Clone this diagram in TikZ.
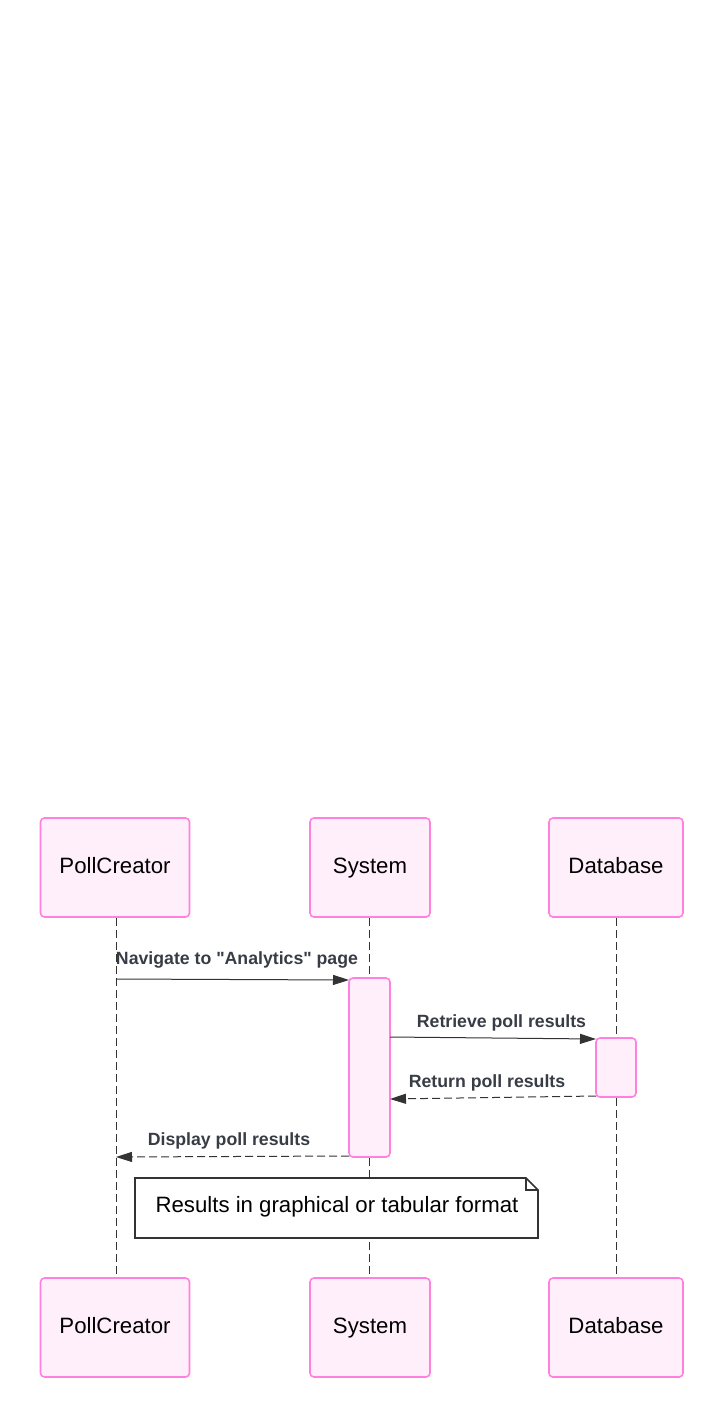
\documentclass[tikz,border=0pt]{standalone}
\usepackage{fontspec}
\setmainfont{Liberation Sans}
\usetikzlibrary{arrows.meta,shapes.misc}
\definecolor{actfill}{HTML}{FFEFFA}
\definecolor{actdraw}{HTML}{FF80DE}
\definecolor{linec}{HTML}{333333}
\definecolor{labc}{HTML}{383C45}
\tikzset{
  actor/.style={draw=actdraw, fill=actfill, line width=1.6pt, rounded corners=4pt, inner sep=0pt},
  atext/.style={font=\fontsize{22.2}{26}\selectfont, text=black, inner sep=0pt, anchor=base},
  actbar/.style={draw=actdraw, fill=actfill, line width=1.6pt, rounded corners=4pt},
  life/.style={draw=linec, line width=0.8pt, dash pattern=on 8pt off 4pt},
  msg/.style={draw=linec, line width=1pt, -{Triangle[length=16pt,width=10pt]}},
  rmsg/.style={msg, dash pattern=on 8pt off 4pt},
  mlab/.style={font=\fontsize{17.7}{20}\bfseries\selectfont, text=labc, inner sep=0pt, anchor=base},
}
\begin{document}
\begin{tikzpicture}[x=1pt,y=-1pt]
\useasboundingbox (0,0) rectangle (723,1418);
% actor boxes
\node[actor, minimum width=149pt, minimum height=99pt] (pc1) at (115,867.5) {};
\node[actor, minimum width=120pt, minimum height=99pt] (sy1) at (370,867.5) {};
\node[actor, minimum width=134pt, minimum height=99pt] (db1) at (616,867.5) {};
\node[actor, minimum width=149pt, minimum height=99pt] (pc2) at (115,1327.5) {};
\node[actor, minimum width=120pt, minimum height=99pt] (sy2) at (370,1327.5) {};
\node[actor, minimum width=134pt, minimum height=99pt] (db2) at (616,1327.5) {};
\node[atext] (tpc1) at (115,873.5) {PollCreator};
\node[atext] (tsy1) at (370,873.5) {System};
\node[atext] (tdb1) at (616,873.5) {Database};
\node[atext] (tpc2) at (115,1333.5) {PollCreator};
\node[atext] (tsy2) at (370,1333.5) {System};
\node[atext] (tdb2) at (616,1333.5) {Database};
% lifelines
\coordinate (lpt) at (116,918); \coordinate (lpb) at (116,1277);
\coordinate (lst) at (369.5,918); \coordinate (lsb) at (369.5,1277);
\coordinate (ldt) at (616.3,918); \coordinate (ldb) at (616.3,1277);
\draw[life] (lpt) -- (lpb);
\draw[life] (lst) -- (lsb);
\draw[life] (ldt) -- (ldb);
% activations
\draw[actbar] (349,978) rectangle (390,1157);
\draw[actbar] (596,1038) rectangle (636,1097);
\coordinate (s1) at (116,979); \coordinate (e1) at (349,980);
\coordinate (s2) at (390,1037); \coordinate (e2) at (596,1039);
\coordinate (s3) at (596,1096); \coordinate (e3) at (390,1099);
\coordinate (s4) at (349,1156); \coordinate (e4) at (116,1157);
\draw[msg] (s1) -- (e1);
\draw[msg] (s2) -- (e2);
\draw[rmsg] (s3) -- (e3);
\draw[rmsg] (s4) -- (e4);
\node[mlab] (l1) at (237,964) {Navigate to \textquotedbl Analytics\textquotedbl{} page};
\node[mlab] (l2) at (501.5,1027.5) {Retrieve poll results};
\node[mlab] (l3) at (487,1087) {Return poll results};
\node[mlab] (l4) at (229,1145.7) {Display poll results};
% note
\draw[draw=linec, fill=white, line width=1.6pt] (135,1178) -- (526,1178) -- (538,1190) -- (538,1238) -- (135,1238) -- cycle;
\draw[draw=linec, line width=1.2pt] (526,1178) -- (526,1190) -- (538,1190);
\node[font=\fontsize{22.2}{26}\selectfont, text=black, inner sep=0pt, anchor=base] (note) at (337,1212.7) {Results in graphical or tabular format};
\end{tikzpicture}
\end{document}
